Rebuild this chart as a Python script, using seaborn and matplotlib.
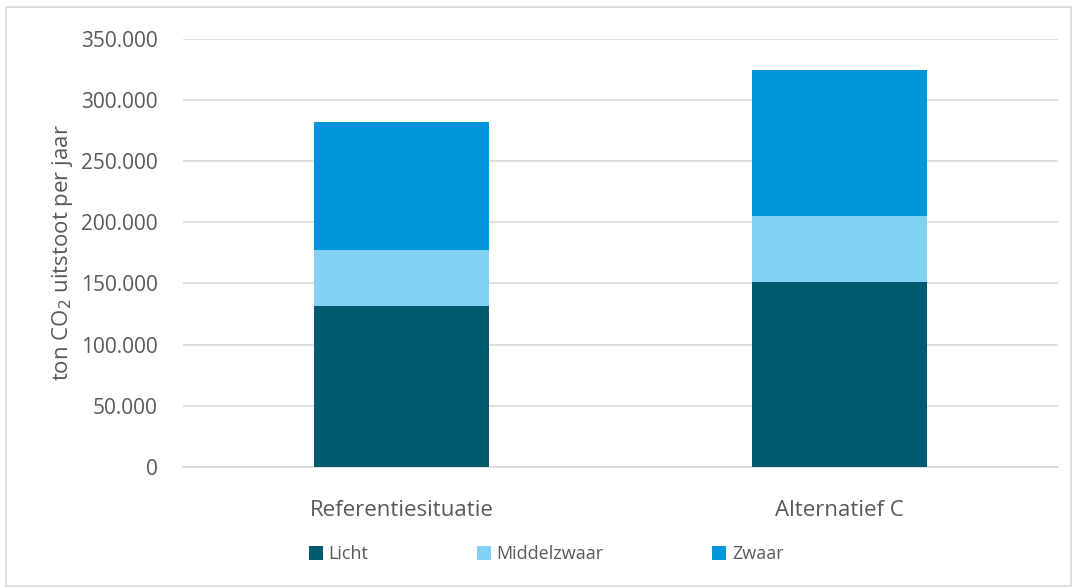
import matplotlib
matplotlib.use("Agg")
import matplotlib.pyplot as plt
import matplotlib.ticker as mticker
from matplotlib.patches import Rectangle, Patch
import seaborn as sns
import numpy as np

categories = ["Referentiesituatie", "Alternatief C"]
licht = [131600, 151300]
middelzwaar = [45800, 53900]
zwaar = [104700, 119400]
series_names = ["Licht", "Middelzwaar", "Zwaar"]
colors = ["#005A70", "#83D0F5", "#0096D9"]

sns.set_theme(style="white")
plt.rcParams["font.family"] = ["Open Sans", "DejaVu Sans"]
text_color = "#595959"

fig = plt.figure(figsize=(10.75, 5.88), dpi=100)
ax = fig.add_axes([0.170, 0.206, 0.814, 0.728])

c1 = np.array(licht)
c2 = c1 + np.array(middelzwaar)
c3 = c2 + np.array(zwaar)
for vals, col in zip([c3, c2, c1], [colors[2], colors[1], colors[0]]):
    sns.barplot(x=categories, y=vals, color=col, width=0.40, ax=ax,
                saturation=1, zorder=3, linewidth=0)

ax.set_ylim(0, 350000)
ax.yaxis.set_major_locator(mticker.MultipleLocator(50000))
ax.yaxis.set_major_formatter(mticker.FuncFormatter(lambda v, p: f"{int(v):,}".replace(",", ".")))
ax.grid(axis="y", color="#D9D9D9", linewidth=1.2, zorder=0)
for s in ["top", "right", "left"]:
    ax.spines[s].set_visible(False)
ax.spines["bottom"].set_color("#D9D9D9")
ax.spines["bottom"].set_linewidth(1.2)
ax.tick_params(axis="y", colors=text_color, labelsize=15, length=0, pad=18)
ax.tick_params(axis="x", colors=text_color, labelsize=16, length=0, pad=24)
ax.set_ylabel("ton CO$_2$ uitstoot per jaar", color=text_color, fontsize=16, labelpad=4)
ax.set_xlabel("")

handles = [Patch(facecolor=c, edgecolor="none") for c in colors]
fig.legend(handles, series_names, loc="center", bbox_to_anchor=(0.508, 0.058), ncol=3,
           frameon=False, fontsize=13, labelcolor=text_color, columnspacing=6.0,
           handlelength=0.8, handleheight=0.8, handletextpad=0.3)

fig.patches.append(Rectangle((0.006, 0.003), 0.99, 0.985, transform=fig.transFigure,
                             fill=False, edgecolor="#D9D9D9", linewidth=1.2))

fig.savefig("out.png", dpi=100)
